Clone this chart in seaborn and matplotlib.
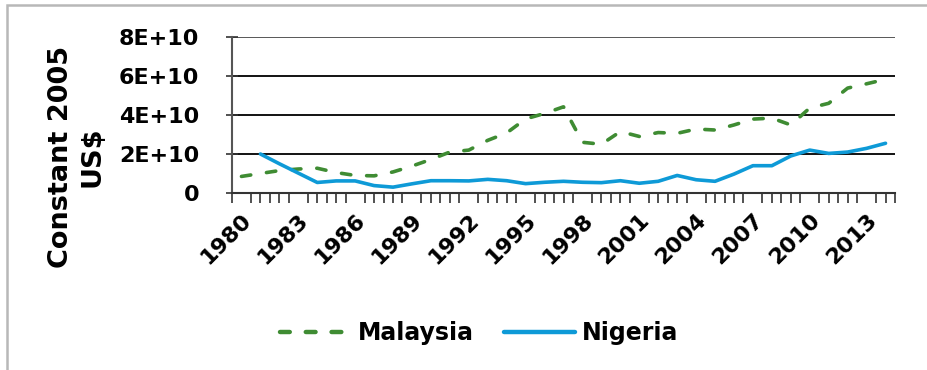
import numpy as np
import pandas as pd
import seaborn as sns
import matplotlib.pyplot as plt
from matplotlib.patches import Rectangle
from matplotlib.ticker import FixedLocator


YEARS = list(range(1980, 2015))

# values in units of 1E+10 constant 2005 US$
MALAYSIA = [0.85, 1.0, 1.15, 1.23, 1.27, 1.05, 0.9, 0.88, 1.08, 1.38,
            1.72, 2.1, 2.2, 2.7, 3.08, 3.8, 4.08, 4.42, 2.6, 2.5,
            3.15, 2.9, 3.1, 3.06, 3.28, 3.23, 3.49, 3.79, 3.84, 3.49,
            4.36, 4.6, 5.38, 5.6, 5.83]

NIGERIA = [np.nan, 2.0, 1.5, 1.02, 0.54, 0.62, 0.62, 0.38, 0.3, 0.47,
           0.63, 0.63, 0.62, 0.7, 0.63, 0.48, 0.55, 0.6, 0.55, 0.53,
           0.63, 0.5, 0.6, 0.9, 0.68, 0.6, 0.97, 1.4, 1.4, 1.9,
           2.2, 2.03, 2.1, 2.29, 2.55]

COUNTRIES = ['Malaysia', 'Nigeria']
COLORS = {'Malaysia': '#3F8C33', 'Nigeria': '#0E9AD7'}
Y_TICKS = [0, 2e10, 4e10, 6e10, 8e10]
Y_TICK_LABELS = ['0', '2E+10', '4E+10', '6E+10', '8E+10']
X_LABEL_YEARS = list(range(1980, 2014, 3))


def build_frame():
    df = pd.DataFrame({'Year': YEARS, 'Malaysia': MALAYSIA, 'Nigeria': NIGERIA})
    df = df.melt(id_vars='Year', var_name='Country', value_name='Value')
    df['Value'] = df['Value'] * 1e10
    return df.dropna()


def main():
    sns.set_style('white')
    plt.rcParams['font.family'] = ['DejaVu Sans']
    plt.rcParams['text.color'] = 'black'
    plt.rcParams['xtick.color'] = '#333333'
    plt.rcParams['ytick.color'] = '#333333'
    plt.rcParams['xtick.labelcolor'] = 'black'
    plt.rcParams['ytick.labelcolor'] = 'black'

    df = build_frame()

    fig = plt.figure(figsize=(9.27, 3.70), dpi=100)
    ax = fig.add_axes([232 / 927, 1 - 193 / 370, 663 / 927, 156 / 370])

    # Grey border (cropped at right/bottom in the original)
    fig.patches.append(Rectangle((7 / 927, -0.1), 1.2, 1 - 5 / 370 + 0.1,
                                 transform=fig.transFigure, fill=False,
                                 edgecolor='#B8B8B8', linewidth=1.8))

    sns.lineplot(data=df, x='Year', y='Value', hue='Country', style='Country',
                 hue_order=COUNTRIES, style_order=COUNTRIES,
                 palette=COLORS, dashes={'Malaysia': (2.6, 4.4), 'Nigeria': ''},
                 linewidth=2.6, ax=ax, legend=False)
    for line in ax.lines:
        line.set_dash_capstyle('round')
        line.set_solid_capstyle('round')

    # Gridlines
    for y in Y_TICKS[1:]:
        ax.axhline(y, color='#4A4A4A' if y == 8e10 else 'black', linewidth=1.3, zorder=0)

    ax.set_ylim(0, 8e10)
    ax.set_xlim(1979.5, 2014.5)
    ax.set_yticks(Y_TICKS)
    ax.set_yticklabels(Y_TICK_LABELS, fontsize=16, fontweight='bold')
    ax.set_xticks(X_LABEL_YEARS)
    ax.set_xticklabels([str(y) for y in X_LABEL_YEARS], fontsize=16, fontweight='bold',
                       rotation=45, ha='right', rotation_mode='anchor')
    ax.xaxis.set_minor_locator(FixedLocator(np.arange(1979.5, 2014.6, 0.5)))
    ax.tick_params(axis='x', which='major', bottom=True, length=0, pad=12)
    ax.tick_params(axis='x', which='minor', bottom=True, length=7, width=1.2,
                   direction='out')
    ax.tick_params(axis='y', left=True, length=9, width=1.2, direction='inout', pad=19)

    for side in ['top', 'right']:
        ax.spines[side].set_visible(False)
    ax.spines['left'].set_color('#555555')
    ax.spines['left'].set_linewidth(1.5)
    ax.spines['bottom'].set_color('#333333')
    ax.spines['bottom'].set_linewidth(1.5)

    ax.set_xlabel('')
    ax.set_ylabel('')
    fig.text(77 / 927, 1 - 157 / 370, 'Constant 2005\nUS$', rotation=90,
             ha='center', va='center', multialignment='center',
             fontsize=19.5, fontweight='bold', linespacing=1.25)

    handles = [plt.Line2D([], [], color=COLORS['Malaysia'], linewidth=3.2,
                          dashes=(2.2, 3.6), dash_capstyle='round'),
               plt.Line2D([], [], color=COLORS['Nigeria'], linewidth=3.2,
                          solid_capstyle='round')]
    fig.legend(handles, COUNTRIES, loc='center', bbox_to_anchor=(479 / 927, 1 - 333 / 370),
               ncol=2, frameon=False, prop={'size': 17, 'weight': 'bold'},
               handlelength=3.0, handletextpad=0.3, columnspacing=1.3)

    fig.savefig('out.png', dpi=100)
    plt.close(fig)


if __name__ == '__main__':
    main()
